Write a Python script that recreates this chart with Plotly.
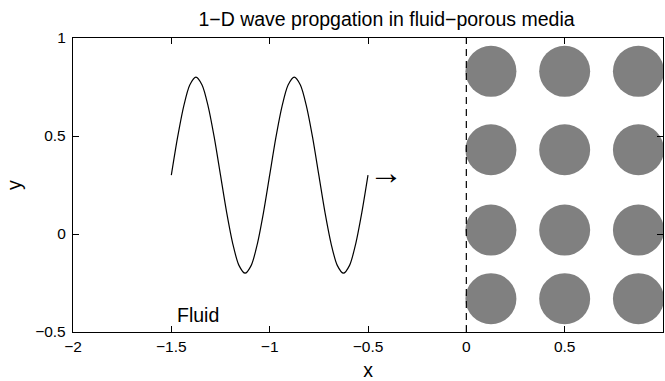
import plotly.graph_objects as go

# Wave samples
wave_x = [-1.5, -1.46875, -1.4375, -1.40625, -1.375, -1.34375, -1.3125, -1.28125,
          -1.25, -1.21875, -1.1875, -1.15625, -1.125, -1.09375, -1.0625, -1.03125,
          -1.0, -0.96875, -0.9375, -0.90625, -0.875, -0.84375, -0.8125, -0.78125,
          -0.75, -0.71875, -0.6875, -0.65625, -0.625, -0.59375, -0.5625, -0.53125, -0.5]
wave_y = [0.3, 0.49, 0.65, 0.76, 0.8, 0.76, 0.65, 0.49,
          0.3, 0.11, -0.05, -0.16, -0.2, -0.16, -0.05, 0.11,
          0.3, 0.49, 0.65, 0.76, 0.8, 0.76, 0.65, 0.49,
          0.3, 0.11, -0.05, -0.16, -0.2, -0.16, -0.05, 0.11, 0.3]

# Porous medium grains (circle centres)
grain_cols = [0.125, 0.5, 0.875]
grain_rows = [0.83, 0.43, 0.02, -0.33]
grain_x = [c for r in grain_rows for c in grain_cols]
grain_y = [r for r in grain_rows for c in grain_cols]

# Interface line
interface_x = [0, 0]
interface_y = [-0.5, 1]

FONT = "Liberation Sans, Arial, sans-serif"

fig = go.Figure()
fig.add_trace(go.Scatter(x=wave_x, y=wave_y, mode="lines",
                         line=dict(color="black", width=1.2, shape="spline", smoothing=0.8),
                         showlegend=False, hoverinfo="skip"))
fig.add_trace(go.Scatter(x=grain_x, y=grain_y, mode="markers",
                         marker=dict(size=51, color="#808080", line=dict(width=0)),
                         cliponaxis=True, showlegend=False, hoverinfo="skip"))
fig.add_trace(go.Scatter(x=interface_x, y=interface_y, mode="lines",
                         line=dict(color="black", width=1.2, dash="7px,5px"),
                         showlegend=False, hoverinfo="skip"))

fig.update_layout(
    width=665, height=381,
    margin=dict(l=73, r=2, t=38, b=49),
    paper_bgcolor="white", plot_bgcolor="white",
    font=dict(family=FONT, color="black", size=15.5),
    title=dict(text="1\u2212D wave propgation in fluid\u2212porous media",
               xref="container", yref="container", x=386.5 / 665, y=1 - 19 / 381,
               xanchor="center", yanchor="middle",
               font=dict(family=FONT, size=19.5, color="black")),
    xaxis=dict(range=[-2, 1], tick0=0, dtick=0.5, showgrid=False, zeroline=False,
               showline=True, linecolor="black", linewidth=1.3, mirror="ticks",
               ticks="inside", ticklen=6, tickwidth=1.2, tickcolor="black",
               tickfont=dict(size=15.5), automargin=False,
               title=dict(text="x", font=dict(size=19.5), standoff=15)),
    yaxis=dict(range=[-0.5, 1], tick0=0, dtick=0.5, showgrid=False, zeroline=False,
               showline=True, linecolor="black", linewidth=1.3, mirror="ticks",
               ticks="inside", ticklen=6, tickwidth=1.2, tickcolor="black",
               tickfont=dict(size=15.5), ticklabelstandoff=3, automargin=False,
               title=dict(text="y", font=dict(size=19.5), standoff=8)),
    annotations=[
        dict(x=-0.41, y=0.315, xref="x", yref="y", text="\u2192", showarrow=False,
             font=dict(family=FONT, size=34, color="black")),
        dict(x=-1.365, y=-0.413, xref="x", yref="y", text="Fluid", showarrow=False,
             font=dict(family=FONT, size=19.5, color="black")),
    ],
)

fig.write_html("out.html")
